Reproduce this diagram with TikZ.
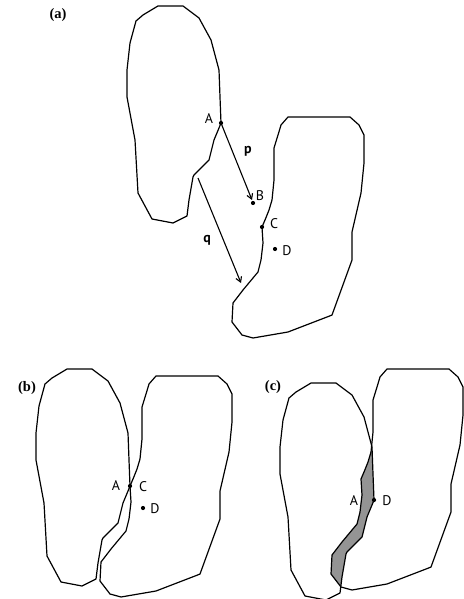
\documentclass[tikz,border=0pt]{standalone}
\usepackage{fontspec}
\usetikzlibrary{arrows.meta}
\setmainfont{Liberation Serif}
\setsansfont{PT Sans}
\begin{document}
\begin{tikzpicture}[x=1pt,y=-1pt,
  outline/.style={line width=1.2pt, line join=round},
  dotpt/.style={circle, fill=black, inner sep=0pt, minimum size=4.2pt},
  lbl/.style={font=\sffamily\fontsize{14}{14}\selectfont, inner sep=0pt},
  vlbl/.style={font=\sffamily\bfseries\fontsize{14}{14}\selectfont, inner sep=0pt},
  panel/.style={font=\bfseries\fontsize{14.5}{14.5}\selectfont, inner sep=0pt},
  vec/.style={line width=1.1pt, -{Straight Barb[length=5pt,width=6pt]}}]
\useasboundingbox (0,0) rectangle (463,599);
\def\pathP{(158,6) -- (183,6) -- (199,18) -- (211,40) -- (219,70) -- (220,97) -- (221,123) -- (219,128) -- (214,140) -- (209,160) -- (194,175) -- (193,177) -- (189,200) -- (187,216) -- (173,223) -- (152,219) -- (138,193) -- (135,140) -- (127,97) -- (127,70) -- (130,43) -- (136,21) -- (143,15) -- cycle}
\def\pathQ{(288,117) -- (312,117) -- (350,117) -- (359,125) -- (364,135) -- (364,163) -- (361,193) -- (352,232) -- (352,260) -- (332,315) -- (327,317) -- (288,332) -- (253,338) -- (242,335) -- (232,322) -- (233,303) -- (243,290) -- (258,272) -- (261,260) -- (263,243) -- (262,227) -- (265,220) -- (269,210) -- (272,200) -- (274,180) -- (274,148) -- (278,135) -- (281,125) -- cycle}
% ---------- (a)
\node[panel] (la) at (58,15) {(a)};
\draw[outline] \pathP;
\draw[outline] \pathQ;
\node[dotpt] (A) at (221,123) {};
\node[dotpt] (B) at (253,203) {};
\node[dotpt] (C) at (262,227) {};
\node[dotpt] (D) at (275,249) {};
\node[lbl] (tA) at (209,119) {A};
\node[lbl] (tB) at (260,196) {B};
\node[lbl] (tC) at (274,224) {C};
\node[lbl] (tD) at (287,251) {D};
\node[vlbl] (tp) at (248,151) {p};
\node[vlbl] (tq) at (207,240) {q};
\coordinate (pend) at (252,200);
\coordinate (qs) at (198,178);
\coordinate (qe) at (241,283);
\draw[vec] (A.center) -- (pend);
\draw[vec] (qs) -- (qe);
% ---------- (b)
\node[panel] (lb) at (27,388) {(b)};
\draw[outline, shift={(-91,363)}] \pathP;
\draw[outline, shift={(-132,259)}] \pathQ;
\node[dotpt] (bA) at (130,486) {};
\node[dotpt] (bD) at (143,508) {};
\node[lbl] (btA) at (116,486) {A};
\node[lbl] (btC) at (143,487) {C};
\node[lbl] (btD) at (155,509) {D};
% ---------- (c)
\node[panel] (lc) at (273,387) {(c)};
\begin{scope}
  \clip[shift={(153,377)}] \pathP;
  \fill[black!42, shift={(99,252)}] \pathQ;
\end{scope}
\draw[outline, shift={(153,377)}] \pathP;
\draw[outline, shift={(99,252)}] \pathQ;
\node[dotpt] (cA) at (374,500) {};
\node[lbl] (ctA) at (354,501) {A};
\node[lbl] (ctD) at (387,501) {D};
\end{tikzpicture}
\end{document}
